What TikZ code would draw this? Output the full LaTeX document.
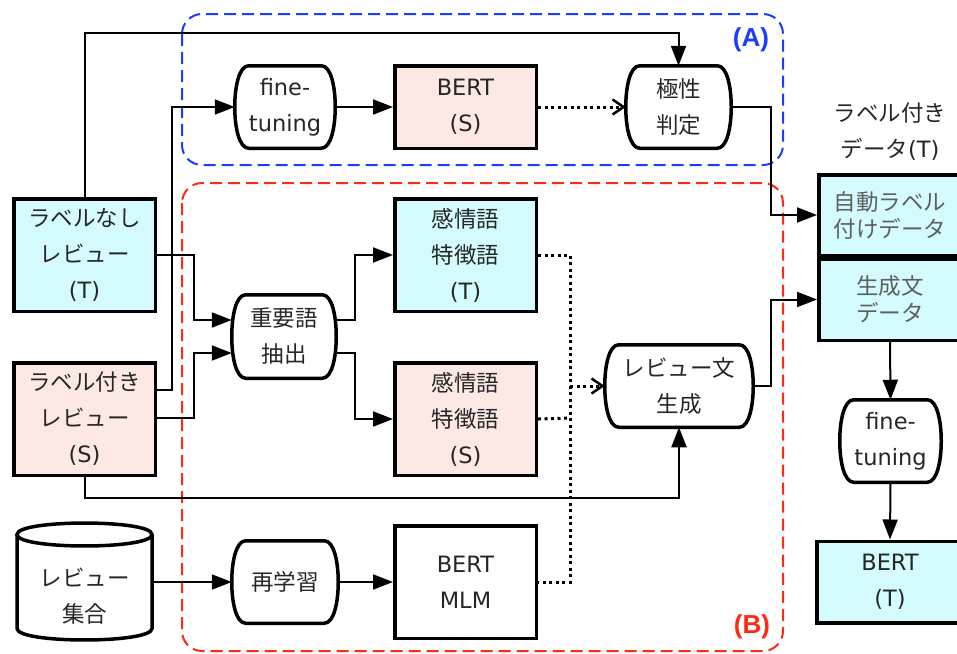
\documentclass[tikz,border=0pt]{standalone}
\usepackage{fontspec}
\setmainfont{DejaVu Sans}
\newfontfamily\jp{Noto Sans CJK JP}
\newfontfamily\labelfont{Liberation Sans}
\usetikzlibrary{arrows.meta}

\definecolor{cyanfill}{HTML}{D4FCFF}
\definecolor{pinkfill}{HTML}{FDE9E3}
\definecolor{txt}{HTML}{262626}
\definecolor{softtxt}{HTML}{5E5E5E}
\definecolor{grpA}{HTML}{1C3CFF}
\definecolor{grpB}{HTML}{FF2A12}

% outline of a process node: flat top and bottom, bulging sides
\newcommand\termoutline[1]{%
  \draw[shapeline]
    ([xshift=14pt]#1.north west) -- ([xshift=-14pt]#1.north east)
    .. controls ([xshift=-4pt]#1.north east) and ([yshift=-22pt]#1.north east) .. (#1.east)
    .. controls ([yshift=22pt]#1.south east) and ([xshift=-4pt]#1.south east) .. ([xshift=-14pt]#1.south east)
    -- ([xshift=14pt]#1.south west)
    .. controls ([xshift=4pt]#1.south west) and ([yshift=22pt]#1.south west) .. (#1.west)
    .. controls ([yshift=-22pt]#1.north west) and ([xshift=4pt]#1.north west) .. cycle;}

\begin{document}
\begin{tikzpicture}[x=1pt,y=-1pt,
  every node/.style={text=txt, font=\fontsize{22.5}{36}\selectfont, align=center, inner sep=0pt},
  box/.style={draw=black, line width=3.5pt, rectangle},
  term/.style={rectangle, outer sep=0pt},
  shapeline/.style={draw=black, line width=3.5pt},
  conn/.style={line width=2pt, -{Triangle[length=20pt,width=15pt]}},
  dotline/.style={line width=3pt, dash pattern=on 3pt off 3.5pt},
  dotarrow/.style={dotline, -{Straight Barb[length=11pt,width=15pt,line width=2.5pt]}},
  group/.style={line width=2pt, dash pattern=on 12pt off 6pt, rounded corners=20pt},
  grouplabel/.style={font=\labelfont\bfseries\fontsize{26}{30}\selectfont},
  softbox/.style={text=softtxt, font=\jp\fontsize{22.5}{27}\selectfont}
]
\useasboundingbox (0,0) rectangle (957,653);

% group frames
\draw[group, draw=grpA] (182,14) rectangle (783,165);
\draw[group, draw=grpB] (182,183) rectangle (783,651);
\node[grouplabel, text=grpA] (labA) at (751,40) {(A)};
\node[grouplabel, text=grpB] (labB) at (752,627) {(B)};

% input data
\node[box, fill=cyanfill, minimum width=141.5pt, minimum height=112.5pt] (ltu) at (84.5,255) {{\jp ラベルなし}\\{\jp レビュー}\\(T)};
\node[box, fill=pinkfill, minimum width=141.5pt, minimum height=112.5pt] (lsr) at (84.5,419) {{\jp ラベル付き}\\{\jp レビュー}\\(S)};

% review corpus (cylinder)
\draw[shapeline, fill=white] (17,534.5) -- (17,628.5) .. controls (17,643.8) and (152,643.8) .. (152,628.5) -- (152,534.5);
\draw[shapeline] (17,534.5) .. controls (17,519.2) and (152,519.2) .. (152,534.5) .. controls (152,549.8) and (17,549.8) .. cycle;
\node (cyltext) at (84.5,596) {{\jp レビュー}\\{\jp 集合}};
\coordinate (cylE) at (153.5,582);

% process nodes
\node[term, minimum width=100.5pt, minimum height=82.5pt] (ft1) at (285,107) {fine-\\tuning};
\node[term, minimum width=105.5pt, minimum height=82.5pt] (kyo) at (678.5,107) {{\jp 極性}\\{\jp 判定}};
\node[term, minimum width=104.5pt, minimum height=83.5pt] (jyu) at (284,336.5) {{\jp 重要語}\\{\jp 抽出}};
\node[term, minimum width=106.5pt, minimum height=82.5pt] (sai) at (285,582) {{\jp 再学習}};
\node[term, minimum width=148.5pt, minimum height=82.5pt] (gen) at (679,386) {{\jp レビュー文}\\{\jp 生成}};
\node[term, minimum width=101.5pt, minimum height=82.5pt] (ft2) at (890.5,441) {fine-\\tuning};
\foreach \n in {ft1,kyo,jyu,sai,gen,ft2} {\termoutline{\n}}

% models and features
\node[box, fill=pinkfill, minimum width=141.5pt, minimum height=82.5pt] (berts) at (465.5,107) {BERT\\(S)};
\node[box, fill=cyanfill, minimum width=141.5pt, minimum height=112.5pt] (kant) at (465.5,255) {{\jp 感情語}\\{\jp 特徴語}\\(T)};
\node[box, fill=pinkfill, minimum width=141.5pt, minimum height=112.5pt] (kans) at (465.5,419) {{\jp 感情語}\\{\jp 特徴語}\\(S)};
\node[box, fill=white, minimum width=141.5pt, minimum height=112.5pt] (mlm) at (465.5,582) {BERT\\MLM};

% labelled target data
\node (outlbl) at (890,132) {{\jp ラベル付き}\\{\jp データ}(T)};
\node[box, softbox, fill=cyanfill, minimum width=142.5pt, minimum height=80.5pt] (auto) at (890,215) {自動ラベル\\付けデータ};
\node[box, softbox, fill=cyanfill, minimum width=142.5pt, minimum height=81.5pt] (gendata) at (890,299.5) {生成文\\データ};
\node[box, fill=cyanfill, minimum width=146.5pt, minimum height=81.5pt] (bertt) at (890,582) {BERT\\(T)};

% connectors, group (A)
\draw[conn] (ltu.north) -- (ltu.north |- 0,33) -| (kyo.north);
\draw[conn] (lsr.east |- 0,390) -- (172,390) |- (ft1.west);
\draw[conn] (ft1.east) -- (berts.west);
\draw[dotarrow] (berts.east) -- (kyo.west);
\draw[conn] (kyo.east) -- (771,107) |- (auto.west);

% connectors, group (B)
\draw[conn] (ltu.east) -- (194,255) |- (jyu.west |- 0,320);
\draw[conn] (lsr.east |- 0,418) -- (194,418) |- (jyu.west |- 0,353);
\draw[conn] (jyu.east |- 0,320) -- (355,320) |- (kant.west);
\draw[conn] (jyu.east |- 0,353) -- (355,353) |- (kans.west);
\draw[dotline] (kant.east) -- (570,255) -- (570,582) -- (mlm.east);
\draw[dotline] (kans.east) -- (570,418);
\draw[dotarrow] (570,386) -- (gen.west);
\draw[conn] (lsr.south) -- (84.5,498) -| (gen.south);
\draw[conn] (gen.east) -- (771,386) |- (gendata.west);
\draw[conn] (cylE) -- (sai.west);
\draw[conn] (sai.east) -- (mlm.west);

% target side
\draw[conn] (gendata.south) -- (ft2.north);
\draw[conn] (ft2.south) -- (bertt.north);
\end{tikzpicture}
\end{document}
